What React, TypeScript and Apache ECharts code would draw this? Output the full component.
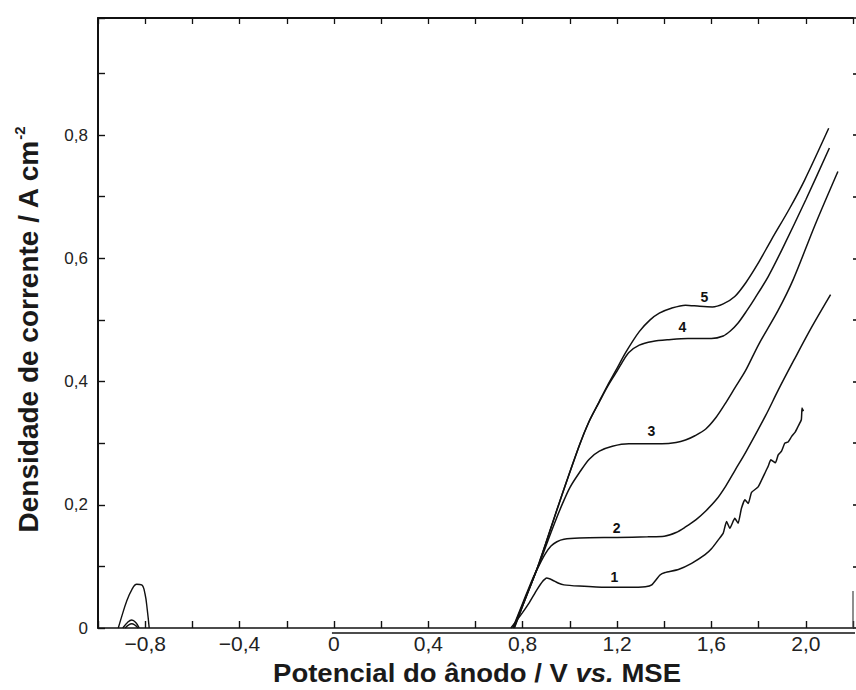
import React, { useEffect, useRef } from "react";
import * as echarts from "echarts";

// ---- data (potential V vs MSE, current density A cm^-2) ----
const curve1: [number, number][] = [
  [0.75, 0], [0.79, 0.02], [0.826, 0.04], [0.86, 0.062], [0.885, 0.076], [0.902, 0.081],
  [0.925, 0.078], [0.95, 0.073], [0.975, 0.07], [1.04, 0.068], [1.15, 0.066], [1.25, 0.066],
  [1.32, 0.067], [1.347, 0.07], [1.382, 0.086], [1.404, 0.09], [1.46, 0.095], [1.516, 0.105],
  [1.573, 0.119], [1.601, 0.129], [1.629, 0.143], [1.65, 0.154], [1.664, 0.173], [1.678, 0.162],
  [1.699, 0.178], [1.713, 0.17], [1.727, 0.194], [1.742, 0.208], [1.756, 0.202], [1.77, 0.22],
  [1.798, 0.229], [1.826, 0.251], [1.84, 0.262], [1.852, 0.273], [1.871, 0.268], [1.883, 0.281],
  [1.897, 0.287], [1.911, 0.3], [1.925, 0.302], [1.94, 0.311], [1.955, 0.318], [1.967, 0.327],
  [1.981, 0.338], [1.984, 0.357], [1.99, 0.352],
];
const curve2: [number, number][] = [
  [0.758, 0], [0.8, 0.04], [0.84, 0.078], [0.87, 0.102], [0.895, 0.12], [0.92, 0.133],
  [0.945, 0.14], [0.975, 0.144], [1.04, 0.146], [1.2, 0.147], [1.33, 0.148], [1.4, 0.149],
  [1.45, 0.155], [1.49, 0.164], [1.535, 0.176], [1.576, 0.19], [1.62, 0.208], [1.66, 0.23],
  [1.7, 0.256], [1.745, 0.285], [1.83, 0.345], [1.883, 0.386], [1.95, 0.435], [2.023, 0.487],
  [2.105, 0.541],
];
const curve3: [number, number][] = [
  [0.76, 0], [0.8, 0.038], [0.87, 0.104], [0.91, 0.145], [0.94, 0.175], [0.97, 0.203],
  [1.0, 0.228], [1.04, 0.252], [1.082, 0.274], [1.125, 0.287], [1.18, 0.295], [1.25, 0.299],
  [1.39, 0.299], [1.45, 0.301], [1.49, 0.305], [1.53, 0.312], [1.576, 0.323], [1.62, 0.342],
  [1.66, 0.365], [1.7, 0.39], [1.745, 0.418], [1.8, 0.46], [1.882, 0.515], [1.946, 0.565],
  [2.04, 0.655], [2.136, 0.741],
];
const curve4: [number, number][] = [
  [0.763, 0], [0.8, 0.036], [0.87, 0.106], [0.955, 0.203], [1.04, 0.296], [1.08, 0.334],
  [1.125, 0.367], [1.16, 0.392], [1.195, 0.414], [1.22, 0.43], [1.25, 0.447], [1.294, 0.459],
  [1.35, 0.465], [1.42, 0.468], [1.5, 0.47], [1.6, 0.47], [1.65, 0.474], [1.68, 0.482],
  [1.713, 0.495], [1.75, 0.515], [1.784, 0.535], [1.84, 0.57], [1.9, 0.615], [2.0, 0.695],
  [2.1, 0.779],
];
const curve5: [number, number][] = [
  [0.765, 0], [0.8, 0.036], [0.87, 0.106], [0.955, 0.203], [1.04, 0.296], [1.08, 0.334],
  [1.125, 0.368], [1.16, 0.394], [1.195, 0.418], [1.238, 0.448], [1.294, 0.481], [1.34, 0.5],
  [1.379, 0.511], [1.43, 0.519], [1.49, 0.524], [1.55, 0.522], [1.604, 0.521], [1.65, 0.526],
  [1.699, 0.538], [1.745, 0.56], [1.795, 0.59], [1.854, 0.63], [1.93, 0.68], [1.995, 0.727],
  [2.097, 0.811],
];
// cathodic peaks near -0.85 V
const peakLarge: [number, number][] = [
  [-0.914, 0], [-0.9, 0.018], [-0.879, 0.043], [-0.857, 0.062], [-0.836, 0.071],
  [-0.815, 0.07], [-0.801, 0.056], [-0.791, 0.029], [-0.783, 0],
];
const peakSmallA: [number, number][] = [
  [-0.895, 0], [-0.875, 0.009], [-0.857, 0.013], [-0.84, 0.009], [-0.825, 0],
];
const peakSmallB: [number, number][] = [
  [-0.885, 0], [-0.857, 0.007], [-0.83, 0],
];

const curveNames = ["1", "2", "3", "4", "5"];
const curveData = [curve1, curve2, curve3, curve4, curve5];
const curveLabelAt: [number, number][] = [
  [1.189, 0.083], [1.198, 0.162], [1.346, 0.32], [1.477, 0.489], [1.57, 0.537],
];

const xLabelValues = [-0.8, -0.4, 0, 0.4, 0.8, 1.2, 1.6, 2.0];
const yLabelValues = [0, 0.2, 0.4, 0.6, 0.8];

const FONT = "'Liberation Sans', Arial, Helvetica, sans-serif";
const INK = "#111";

const fmt = (v: number) => {
  const r = Math.round(v * 10) / 10;
  if (Math.abs(r) < 1e-9) return "0";
  return (r < 0 ? "\u2212" : "") + Math.abs(r).toFixed(1).replace(".", ",");
};
const pick = (list: number[]) => (v: number) =>
  list.some((t) => Math.abs(t - v) < 1e-6) ? fmt(v) : "";

export default function App() {
  const ref = useRef<HTMLDivElement>(null);
  useEffect(() => {
    if (!ref.current) return;
    const chart = echarts.init(ref.current, undefined, { renderer: "svg" });

    const lineSeries: any[] = curveData.map((d, i) => ({
      name: curveNames[i],
      type: "line",
      data: d,
      smooth: i === 0 ? 0.15 : 0.3,
      showSymbol: false,
      symbol: "none",
      lineStyle: { color: INK, width: 1.5 },
      markPoint: {
        silent: true,
        symbol: "circle",
        symbolSize: 1,
        itemStyle: { color: "rgba(0,0,0,0)" },
        label: {
          show: true,
          position: "inside",
          formatter: curveNames[i],
          color: INK,
          fontSize: 14,
          fontWeight: "bold",
          fontFamily: FONT,
        },
        data: [{ coord: curveLabelAt[i] }],
      },
    }));
    [peakLarge, peakSmallA, peakSmallB].forEach((d, k) =>
      lineSeries.push({
        name: "pico" + k,
        type: "line",
        data: d,
        smooth: 0.4,
        symbol: "none",
        lineStyle: { color: INK, width: 1.4 },
      })
    );

    chart.setOption({
      animation: false,
      backgroundColor: "#fff",
      grid: { left: 98, right: 3, top: 18, bottom: 62, containLabel: false },
      xAxis: [
        {
          type: "value",
          position: "bottom",
          min: -1.0,
          max: 2.2,
          interval: 0.2,
          splitLine: { show: false },
          axisLine: { show: true, onZero: false, lineStyle: { color: INK, width: 1.6 } },
          axisTick: { show: true, inside: true, length: 7, lineStyle: { color: INK, width: 1.4 } },
          axisLabel: {
            formatter: pick(xLabelValues),
            color: "#222",
            fontSize: 21,
            fontFamily: FONT,
            margin: 5,
            showMinLabel: true,
            showMaxLabel: true,
          },
        },
        {
          type: "value",
          position: "top",
          min: -1.0,
          max: 2.2,
          interval: 0.2,
          splitLine: { show: false },
          axisLine: { show: true, onZero: false, lineStyle: { color: INK, width: 1.8 } },
          axisTick: { show: true, inside: true, length: 6, lineStyle: { color: INK, width: 1.3 } },
          axisLabel: { show: false },
        },
      ],
      yAxis: [
        {
          type: "value",
          position: "left",
          min: 0,
          max: 0.99,
          interval: 0.1,
          splitLine: { show: false },
          axisLine: { show: true, onZero: false, lineStyle: { color: INK, width: 2 } },
          axisTick: { show: true, inside: true, length: 7, lineStyle: { color: INK, width: 1.4 } },
          axisLabel: {
            formatter: pick(yLabelValues),
            color: "#222",
            fontSize: 17,
            fontFamily: FONT,
            margin: 10,
          },
        },
        {
          type: "value",
          position: "right",
          min: 0,
          max: 0.99,
          interval: 0.1,
          splitLine: { show: false },
          axisLine: { show: true, onZero: false, lineStyle: { color: "#ffffff", width: 1 } },
          axisTick: { show: true, inside: false, length: 5, lineStyle: { color: INK, width: 1.6 } },
          axisLabel: { show: false },
        },
      ],
      series: lineSeries,
      graphic: [
        {
          id: "ytitle",
          type: "text",
          x: 28,
          y: 330,
          rotation: Math.PI / 2,
          style: {
            text: "{t|Densidade de corrente / A cm}{s|-2}",
            align: "center",
            verticalAlign: "middle",
            fill: "#1a1a1a",
            rich: {
              t: { fontSize: 28, fontWeight: "bold", fontFamily: FONT, fill: "#1a1a1a", lineHeight: 32 },
              s: { fontSize: 15, fontWeight: "bold", fontFamily: FONT, fill: "#1a1a1a", verticalAlign: "top", lineHeight: 32 },
            },
          },
        },
        {
          id: "xtitle",
          type: "text",
          x: 477,
          y: 673,
          scaleX: 1.1,
          style: {
            text: "{b|Potencial do ânodo / V }{i|vs.}{b| MSE}",
            align: "center",
            verticalAlign: "middle",
            fill: "#1a1a1a",
            rich: {
              b: { fontSize: 25, fontWeight: "bold", fontFamily: FONT, fill: "#1a1a1a" },
              i: { fontSize: 25, fontWeight: "bold", fontStyle: "italic", fontFamily: FONT, fill: "#1a1a1a" },
            },
          },
        },
      ],
    });

    // decorations positioned through the chart's own scales
    const px = (v: [number, number]) =>
      chart.convertToPixel({ xAxisIndex: 0, yAxisIndex: 0 }, v) as number[];
    const p0 = px([0, 0]);
    const p1 = px([2.2, 0]);
    const p2 = px([2.2, 0.06]);
    chart.setOption({
      graphic: [
        {
          id: "scanline",
          type: "line",
          z: 100,
          shape: { x1: p0[0] - 2, y1: p0[1] + 5, x2: p1[0] + 2, y2: p1[1] + 5 },
          style: { stroke: INK, lineWidth: 1.6 },
        },
        {
          id: "rightstub",
          type: "line",
          z: 100,
          shape: { x1: p1[0], y1: p1[1], x2: p2[0], y2: p2[1] },
          style: { stroke: "#444", lineWidth: 1.2 },
        },
      ],
    });

    return () => chart.dispose();
  }, []);
  return (
    <div
      ref={ref}
      style={{ position: "fixed", left: 0, top: 0, width: 856, height: 690, background: "#fff" }}
    />
  );
}
